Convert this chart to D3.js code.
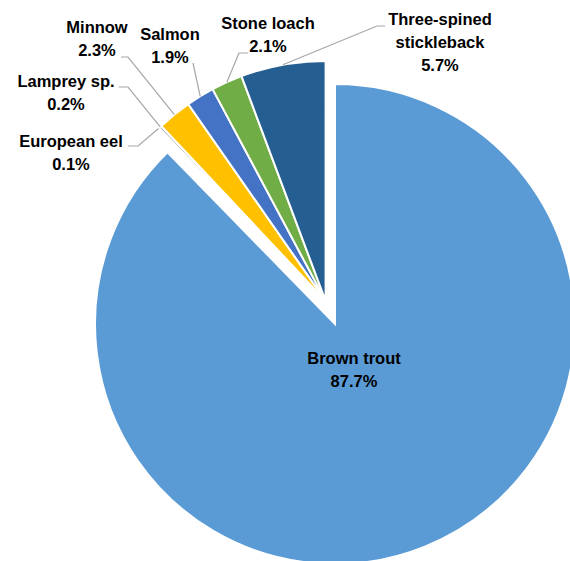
<!DOCTYPE html>
<html>
<head>
<meta charset="utf-8">
<script src="https://cdn.jsdelivr.net/npm/d3@7"></script>
<style>
  body { margin: 0; background: #fff; }
  svg { display: block; }
</style>
</head>
<body>
<svg width="570" height="561"></svg>
<script>
// fish species share of catch (%)
const species = ['Brown trout', 'European eel', 'Lamprey sp.', 'Minnow', 'Salmon', 'Stone loach', 'Three-spined stickleback'];
const shares = [87.7, 0.1, 0.2, 2.3, 1.9, 2.1, 5.7];
const labelLines = [['Brown trout'], ['European eel'], ['Lamprey sp.'], ['Minnow'], ['Salmon'], ['Stone loach'], ['Three-spined', 'stickleback']];
const colors = ['#5B9BD5', '#ED7D31', '#A5A5A5', '#FFC000', '#4472C4', '#70AD47', '#255E91'];

// label placement: centre x, first baseline y, leader start and knee
const labelPos = [
    { x: 354, y: 364 },
    { x: 71, y: 147, start: [128, 146], knee: [138, 146] },
    { x: 66, y: 87, start: [119, 87], knee: [128, 87] },
    { x: 97, y: 33, start: [121, 57], knee: [128, 57] },
    { x: 170, y: 40, start: [193, 63], knee: [193, 63] },
    { x: 268, y: 29, start: [248, 53], knee: [239, 53] },
    { x: 440, y: 25, start: [385, 26], knee: [377, 26] }
];

const cx = 325.6, cy = 300.9, radius = 240;
const explode = [25, 0, 0, 0, 0, 0, 0];
const lineH = 23;

const svg = d3.select('svg');
const g = svg.append('g').attr('transform', `translate(${cx},${cy})`);

const pie = d3.pie().sort(null).value(d => d)(shares);
const arc = d3.arc().innerRadius(0).outerRadius(radius);

function offset(d, i) {
    const a = (d.startAngle + d.endAngle) / 2;
    return [Math.sin(a) * explode[i], -Math.cos(a) * explode[i]];
}

g.selectAll('path.slice')
    .data(pie)
    .enter()
    .append('path')
    .attr('class', 'slice')
    .attr('d', arc)
    .attr('transform', (d, i) => `translate(${offset(d, i)})`)
    .attr('fill', (d, i) => colors[i])
    .attr('stroke', '#fff')
    .attr('stroke-width', 2)
    .attr('stroke-linejoin', 'miter');

// leader lines
pie.forEach((d, i) => {
    const p = labelPos[i];
    if (!p.start) return;
    const a = (d.startAngle + d.endAngle) / 2;
    const o = offset(d, i);
    const end = [cx + o[0] + Math.sin(a) * radius, cy + o[1] - Math.cos(a) * radius];
    svg.append('polyline')
        .attr('points', [p.start, p.knee, end].map(q => q.join(',')).join(' '))
        .attr('fill', 'none')
        .attr('stroke', '#A6A6A6')
        .attr('stroke-width', 1.2);
});

// labels
pie.forEach((d, i) => {
    const p = labelPos[i];
    const lines = labelLines[i].concat([d3.format('.1f')(shares[i]) + '%']);
    const t = svg.append('text')
        .attr('text-anchor', 'middle')
        .attr('font-family', 'Liberation Sans, Arial, sans-serif')
        .attr('font-weight', 'bold')
        .attr('font-size', 16.5)
        .attr('fill', '#000');
    lines.forEach((s, k) => {
        t.append('tspan')
            .attr('x', p.x)
            .attr('y', p.y + k * lineH)
            .text(s);
    });
});
</script>
</body>
</html>
